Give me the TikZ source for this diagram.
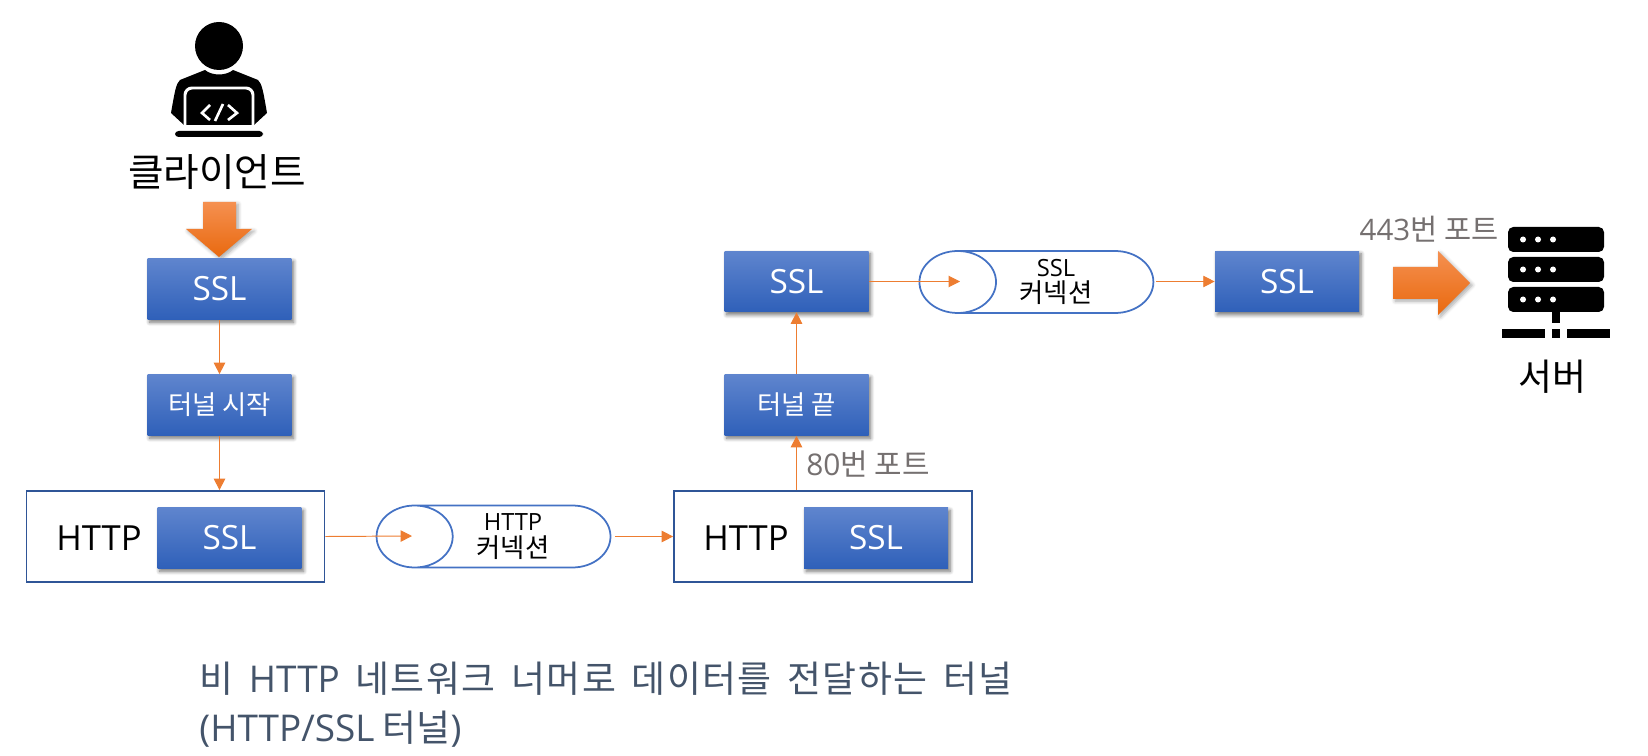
\documentclass[tikz,border=0pt]{standalone}
\usepackage{fontspec}
\setmainfont{Open Sans}
\newfontfamily\krfont{Noto Sans CJK KR}
\newfontfamily\krwide[LetterSpace=4, WordSpace=1.6]{Noto Sans CJK KR}
\newcommand{\ko}[1]{{\krfont #1}}
\newcommand{\kw}[1]{{\krwide #1}}
\newcommand{\kp}[1]{{\fontsize{15}{16}\selectfont\krfont #1}}
\usetikzlibrary{arrows.meta, shapes.geometric, shadows.blur}
\definecolor{boxtop}{HTML}{5F85CE}
\definecolor{boxbot}{HTML}{2F60B9}
\definecolor{linkorange}{HTML}{ED7D31}
\definecolor{framblue}{HTML}{2F5597}
\definecolor{pipeblue}{HTML}{4472C4}
\definecolor{portgray}{HTML}{757070}
\definecolor{titleslate}{HTML}{44546A}
\definecolor{arrowtop}{HTML}{F59050}
\definecolor{arrowbot}{HTML}{E9690F}
\tikzset{
  bluebox/.style={rectangle, minimum width=2.88cm, minimum height=1.22cm, inner sep=0pt,
    top color=boxtop, bottom color=boxbot, text=white,
    blur shadow={shadow xshift=1.2pt, shadow yshift=-1.6pt, shadow blur steps=6, shadow opacity=55},
    font=\fontsize{19}{23}\selectfont},
  framebox/.style={rectangle, draw=framblue, line width=1pt, minimum width=5.96cm, minimum height=1.82cm, inner sep=0pt},
  pipe/.style={cylinder, shape border rotate=180, draw=pipeblue, line width=1pt, aspect=1.68,
    minimum width=1.24cm, minimum height=4.68cm, inner sep=0pt, align=center,
    font=\fontsize{13.5}{16}\selectfont},
  link/.style={->, linkorange, line width=0.55pt},
  bigarrow/.style={top color=arrowtop, bottom color=arrowbot,
    blur shadow={shadow xshift=1.2pt, shadow yshift=-1.2pt, shadow blur steps=6, shadow opacity=35}}
}
\begin{document}
\begin{tikzpicture}[>={Triangle[length=6.5pt, width=6.5pt]}, x=0.02cm, y=-0.02cm]
\useasboundingbox (0,0) rectangle (1648,756);

% Client icon
\fill (219,46) circle (24);
\fill (205,70) .. controls (212,76) and (226,76) .. (233,70) -- (258,80)
  .. controls (262,84) and (263,90) .. (267,113) -- (254,125) -- (184,125) -- (171,113)
  .. controls (175,90) and (176,84) .. (180,80) -- cycle;
\draw[white, line width=1.7pt, rounded corners=4pt] (185,131) -- (185,88) -- (253,88) -- (253,131);
\fill[rounded corners=2pt] (175,131) rectangle (263,137);
\draw[white, line width=1.5pt] (210,105) -- (202,113) -- (210,120);
\draw[white, line width=1.5pt] (223,104) -- (215,121);
\draw[white, line width=1.5pt] (228,105) -- (237,113) -- (228,120);

% Server icon
\foreach \y in {227,257,287} {
  \fill[rounded corners=3pt] (1508,\y) rectangle (1604,\y+25);
  \foreach \x in {1523,1538,1553}
    \fill[white] (\x,\y+12.5) circle (3);
}
\fill (1552,311) rectangle (1560,323);
\fill (1502,329) rectangle (1545,338);
\fill (1552,329) rectangle (1560,338);
\fill (1567,329) rectangle (1610,338);

% Block arrows
\path[bigarrow] (203,202) -- (236,202) -- (236,229) -- (252,229) -- (219,257) -- (186,229) -- (203,229) -- cycle;
\path[bigarrow] (1393,267) -- (1438,267) -- (1438,251) -- (1470,283) -- (1438,315) -- (1438,299) -- (1393,299) -- cycle;

% Nodes
\node[font=\fontsize{22}{26}\selectfont] (client) at (217,172) {\ko{클라이언트}};
\node[font=\fontsize{21}{25}\selectfont] (server) at (1552,377) {\ko{서버}};
\node[bluebox] (sslstart) at (219.5,289) {SSL};
\node[bluebox, font=\fontsize{15}{18}\selectfont] (tunnelstart) at (219.5,405) {\ko{터널 시작}};
\node[framebox] (httpa) at (175.5,536.5) {};
\node[framebox] (httpb) at (823,536.5) {};
\node[bluebox] (ssla) at (229.5,538) {SSL};
\node[bluebox] (sslb) at (876,538) {SSL};
\node[font=\fontsize{19.7}{23}\selectfont] (httpalabel) at (99,538) {HTTP};
\node[font=\fontsize{19.7}{23}\selectfont] (httpblabel) at (746,538) {HTTP};
\node[pipe] (pipea) at (513,536.5) {HTTP\\[-1pt]\kp{커넥션}};
\node[pipe] (pipeb) at (1056,282) {SSL\\[-1pt]\kp{커넥션}};
\coordinate (pipeaface) at (412,536);
\coordinate (pipebface) at (960,281.5);
\node[bluebox, font=\fontsize{15}{18}\selectfont] (tunnelstop) at (796.5,405) {\ko{터널 끝}};
\node[bluebox] (sslmid) at (796.5,281.5) {SSL};
\node[bluebox] (sslend) at (1287,281.5) {SSL};

% Port and title text
\node[text=portgray, font=\fontsize{16.8}{20}\selectfont] (portssl) at (1429,229) {443\ko{번 포트}};
\node[text=portgray, font=\fontsize{17}{20}\selectfont] (porthttp) at (868,464) {80\ko{번 포트}};
\node[anchor=north west, align=left, inner sep=0pt, text=titleslate, font=\fontsize{21}{27.5}\selectfont] (title) at (199,662)
  {\kw{비 }HTTP\kw{ 네트워크 너머로 데이터를 전달하는 터널}\\(HTTP/SSL\ko{ 터널})};

% Arrows - vertical
\draw[link] (sslstart) -- (tunnelstart);
\draw[link] (tunnelstart) -- (tunnelstart |- httpa.north);
\draw[link] (tunnelstop |- httpb.north) -- (tunnelstop);
\draw[link] (tunnelstop) -- (sslmid);

% Arrows - horizontal
\draw[link] (httpa.east) -- (pipeaface);
\draw[link, shorten <=2pt] (pipea.east |- httpb) -- (httpb.west);
\draw[link] (sslmid) -- (pipebface);
\draw[link, shorten <=1pt] (pipeb.east |- sslend) -- (sslend);

\end{tikzpicture}
\end{document}
